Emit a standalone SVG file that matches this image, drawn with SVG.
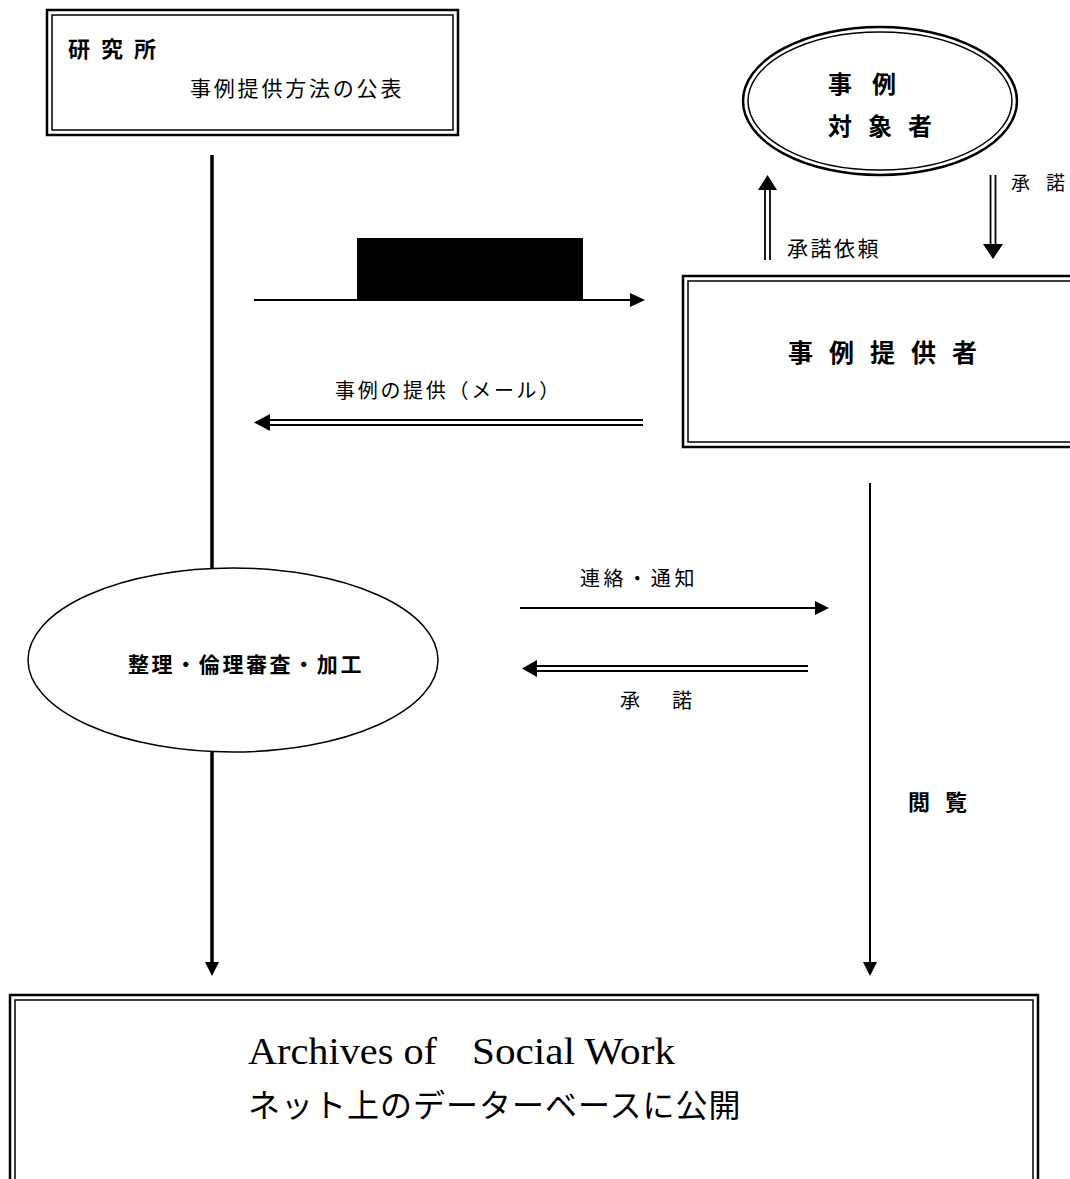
<svg xmlns="http://www.w3.org/2000/svg" width="1070" height="1179" viewBox="0 0 1070 1179">
<defs>
<style>
.jp{font-family:"Noto Sans CJK JP","Noto Sans CJK SC",sans-serif;fill:#000}
.b{font-weight:bold}
.outer{fill:none;stroke:#000;stroke-width:2.5}
.inner{fill:none;stroke:#000;stroke-width:1.5}
.ln{stroke:#000;fill:none}
.hd{fill:#000;stroke:none}
.serif{font-family:"Liberation Serif",serif;fill:#000}
</style>
</defs>
<rect width="1070" height="1179" fill="#fff"/>

<g id="node-institute">
<rect class="outer" x="47" y="10" width="411" height="125"/>
<rect class="inner" x="52" y="15" width="401" height="115"/>
<text class="jp b" x="68" y="57" font-size="22">研<tspan dx="11">究</tspan><tspan dx="11">所</tspan></text>
<text class="jp" x="190" y="96" font-size="21" letter-spacing="2.8">事例提供方法の公表</text>
</g>

<g id="node-subject">
<ellipse class="outer" cx="880" cy="101" rx="137" ry="74"/>
<ellipse class="inner" cx="880" cy="101" rx="132" ry="69"/>
<text class="jp b" x="828" y="93" font-size="24">事<tspan dx="20">例</tspan></text>
<text class="jp b" x="828" y="135" font-size="24">対<tspan dx="16">象</tspan><tspan dx="16">者</tspan></text>
</g>

<g id="node-provider">
<rect class="outer" x="683" y="276" width="400" height="171"/>
<rect class="inner" x="688" y="281" width="390" height="161"/>
<text class="jp b" x="788" y="362" font-size="25">事<tspan dx="16">例</tspan><tspan dx="16">提</tspan><tspan dx="16">供</tspan><tspan dx="16">者</tspan></text>
</g>

<g id="node-process">
<ellipse class="inner" cx="233" cy="660" rx="205" ry="92"/>
<text class="jp b" x="128" y="672" font-size="21" letter-spacing="2.6">整理・倫理審査・加工</text>
</g>

<g id="node-archive">
<rect class="outer" x="10" y="995" width="1028" height="200"/>
<rect class="inner" x="15" y="1000" width="1018" height="190"/>
<text class="serif" x="248" y="1064" font-size="38" textLength="189" lengthAdjust="spacingAndGlyphs">Archives of</text>
<text class="serif" x="472" y="1064" font-size="38" textLength="203" lengthAdjust="spacingAndGlyphs">Social Work</text>
<text class="jp" x="248" y="1117" font-size="32" letter-spacing="1">ネット上のデーターベースに公開</text>
</g>

<g id="connectors">
<line class="ln" x1="212" y1="155" x2="212" y2="568" stroke-width="3.5"/>
<line class="ln" x1="212" y1="752" x2="212" y2="962" stroke-width="3.5"/>
<polygon class="hd" points="205,962 219,962 212,976"/>

<rect x="357" y="238" width="226" height="62" fill="#000"/>
<line class="ln" x1="254" y1="300" x2="632" y2="300" stroke-width="2"/>
<polygon class="hd" points="630,293 645,300 630,307"/>

<line class="ln" x1="268" y1="420" x2="643" y2="420" stroke-width="1.8"/>
<line class="ln" x1="268" y1="425" x2="643" y2="425" stroke-width="1.8"/>
<polygon class="hd" points="270,414 254,422.5 270,431"/>
<text class="jp" x="335" y="398" font-size="20" letter-spacing="2.7">事例の提供（メール）</text>

<line class="ln" x1="765" y1="188" x2="765" y2="260" stroke-width="1.8"/>
<line class="ln" x1="770" y1="188" x2="770" y2="260" stroke-width="1.8"/>
<polygon class="hd" points="758,190 767.5,175 777,190"/>
<text class="jp" x="787" y="256" font-size="21" letter-spacing="2.5">承諾依頼</text>

<line class="ln" x1="990.5" y1="175" x2="990.5" y2="246" stroke-width="1.8"/>
<line class="ln" x1="995.5" y1="175" x2="995.5" y2="246" stroke-width="1.8"/>
<polygon class="hd" points="983,244 993,259 1003,244"/>
<text class="jp" x="1011" y="190" font-size="19">承<tspan dx="16">諾</tspan></text>

<line class="ln" x1="520" y1="608" x2="816" y2="608" stroke-width="2"/>
<polygon class="hd" points="815,601 829,608 815,615"/>
<text class="jp" x="580" y="586" font-size="20" letter-spacing="3.6">連絡・通知</text>

<line class="ln" x1="535" y1="666" x2="808" y2="666" stroke-width="1.8"/>
<line class="ln" x1="535" y1="671" x2="808" y2="671" stroke-width="1.8"/>
<polygon class="hd" points="537,660 522,668.5 537,677"/>
<text class="jp" x="620" y="708" font-size="20">承<tspan dx="32">諾</tspan></text>

<line class="ln" x1="870" y1="483" x2="870" y2="962" stroke-width="2"/>
<polygon class="hd" points="863,962 877,962 870,976"/>
<text class="jp b" x="908" y="810" font-size="22">閲<tspan dx="15">覧</tspan></text>
</g>
</svg>
